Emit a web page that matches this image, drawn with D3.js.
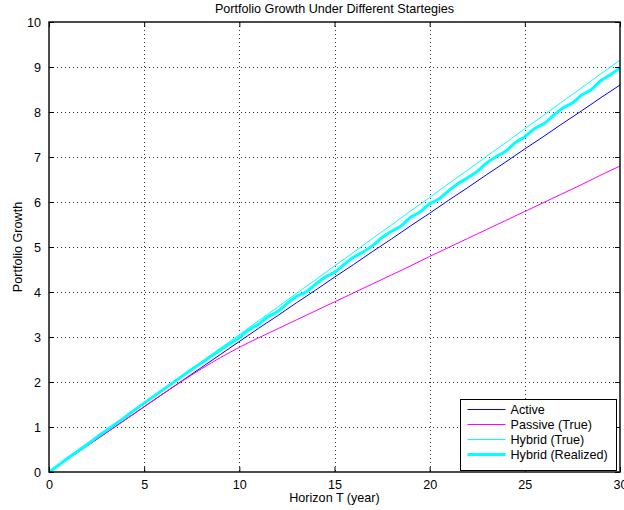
<!DOCTYPE html>
<html>
<head>
<meta charset="utf-8">
<script src="https://cdn.jsdelivr.net/npm/d3@7/dist/d3.min.js"></script>
<style>
  html, body { margin: 0; padding: 0; background: #fff; }
  svg { display: block; font-family: "Liberation Sans", Arial, Helvetica, sans-serif; }
</style>
</head>
<body>
<svg id="chart" width="624" height="510"></svg>
<script>
// Horizons (years) for the smooth strategy curves
const years = [0,1,2,3,4,5,6,7,8,9,10,11,12,13,14,15,16,17,18,19,20,21,22,23,24,25,26,27,28,29,30];
const activeGrowth = [0,0.29,0.58,0.87,1.16,1.45,1.74,2.03,2.32,2.61,2.90,3.19,3.47,3.76,4.04,4.33,4.61,4.90,5.18,5.47,5.75,6.04,6.32,6.61,6.89,7.18,7.46,7.75,8.03,8.32,8.60];
const passiveGrowth = [0,0.29,0.58,0.87,1.16,1.45,1.74,2.02,2.29,2.54,2.77,2.98,3.18,3.38,3.58,3.78,3.98,4.18,4.38,4.58,4.79,4.99,5.19,5.39,5.59,5.79,5.99,6.19,6.39,6.60,6.80];
const hybridTrue = [0,0.31,0.61,0.92,1.22,1.53,1.83,2.14,2.44,2.75,3.05,3.36,3.66,3.97,4.27,4.58,4.88,5.19,5.49,5.80,6.10,6.41,6.71,7.02,7.32,7.63,7.93,8.24,8.54,8.85,9.15];

// Realized hybrid path, sampled every half year
const halfYears = [0,0.5,1,1.5,2,2.5,3,3.5,4,4.5,5,5.5,6,6.5,7,7.5,8,8.5,9,9.5,10,10.5,11,11.5,12,12.5,13,13.5,14,14.5,15,15.5,16,16.5,17,17.5,18,18.5,19,19.5,20,20.5,21,21.5,22,22.5,23,23.5,24,24.5,25,25.5,26,26.5,27,27.5,28,28.5,29,29.5,30];
const hybridRealized = [0,0.15,0.31,0.46,0.61,0.77,0.92,1.07,1.22,1.38,1.53,1.68,1.83,1.98,2.13,2.28,2.42,2.57,2.71,2.85,2.99,3.16,3.28,3.45,3.56,3.74,3.90,4.00,4.17,4.33,4.44,4.61,4.77,4.89,5.03,5.21,5.35,5.47,5.66,5.78,5.96,6.07,6.25,6.41,6.54,6.68,6.87,7.01,7.13,7.32,7.45,7.63,7.74,7.92,8.09,8.20,8.38,8.50,8.70,8.83,8.98];

const xTicks = [0,5,10,15,20,25,30];
const yTicks = [0,1,2,3,4,5,6,7,8,9,10];

const seriesNames = ["Active", "Passive (True)", "Hybrid (True)", "Hybrid (Realized)"];
const seriesColors = ["#0000ff", "#ff00ff", "#00ffff", "#00ffff"];
const seriesWidths = [1, 1, 1, 3];

const svg = d3.select("#chart");
const plotLeft = 49, plotRight = 620, plotTop = 22, plotBottom = 472;
const fontSize = "12.6px";

const x = d3.scaleLinear().domain([0, 30]).range([plotLeft, plotRight]);
const y = d3.scaleLinear().domain([0, 10]).range([plotBottom, plotTop]);

// dotted grid
const grid = svg.append("g").attr("stroke", "#333").attr("stroke-width", 1).attr("stroke-dasharray", "1,3");
grid.selectAll("line.gx").data(xTicks.slice(1, -1)).join("line")
  .attr("x1", d => Math.round(x(d)) + 0.5).attr("x2", d => Math.round(x(d)) + 0.5)
  .attr("y1", plotTop).attr("y2", plotBottom);
grid.selectAll("line.gy").data(yTicks.slice(1, -1)).join("line")
  .attr("y1", d => Math.round(y(d)) + 0.5).attr("y2", d => Math.round(y(d)) + 0.5)
  .attr("x1", plotLeft).attr("x2", plotRight);

// strategy curves
const line = d3.line().x(d => x(d[0])).y(d => y(d[1]));
const smooth = d3.line().x(d => x(d[0])).y(d => y(d[1])).curve(d3.curveMonotoneX);
const plot = svg.append("g").attr("fill", "none");
plot.append("path").datum(d3.zip(years, activeGrowth)).attr("d", line)
  .attr("stroke", seriesColors[0]).attr("stroke-width", seriesWidths[0]);
plot.append("path").datum(d3.zip(years, passiveGrowth)).attr("d", smooth)
  .attr("stroke", seriesColors[1]).attr("stroke-width", seriesWidths[1]);
plot.append("path").datum(d3.zip(years, hybridTrue)).attr("d", line)
  .attr("stroke", seriesColors[2]).attr("stroke-width", seriesWidths[2]);
plot.append("path").datum(d3.zip(halfYears, hybridRealized)).attr("d", smooth)
  .attr("stroke", seriesColors[3]).attr("stroke-width", seriesWidths[3]).attr("stroke-linejoin", "round");

// axes: ticks point inward on all four sides
const tickLen = 5;
const xb = svg.append("g").attr("transform", `translate(0,${plotBottom})`)
  .call(d3.axisBottom(x).tickValues(xTicks).tickSizeInner(-tickLen).tickSizeOuter(0).tickPadding(8));
const xt = svg.append("g").attr("transform", `translate(0,${plotTop})`)
  .call(d3.axisTop(x).tickValues(xTicks).tickSizeInner(-tickLen).tickSizeOuter(0).tickFormat(""));
const yl = svg.append("g").attr("transform", `translate(${plotLeft},0)`)
  .call(d3.axisLeft(y).tickValues(yTicks).tickSizeInner(-tickLen).tickSizeOuter(0).tickPadding(8));
const yr = svg.append("g").attr("transform", `translate(${plotRight},0)`)
  .call(d3.axisRight(y).tickValues(yTicks).tickSizeInner(-tickLen).tickSizeOuter(0).tickFormat(""));
[xb, xt, yl, yr].forEach(g => {
  g.selectAll(".domain").remove();
  g.selectAll(".tick line").attr("stroke", "#000");
  g.selectAll("text").attr("fill", "#000").style("font-size", fontSize)
    .style("font-family", "'Liberation Sans', Arial, Helvetica, sans-serif");
});
yl.selectAll("text").attr("dy", "0.35em");

// box frame
svg.append("rect").attr("x", plotLeft).attr("y", plotTop)
  .attr("width", plotRight - plotLeft).attr("height", plotBottom - plotTop)
  .attr("fill", "none").attr("stroke", "#000").attr("stroke-width", 1.4);

// titles
svg.append("text").attr("x", (plotLeft + plotRight) / 2).attr("y", 13).attr("text-anchor", "middle")
  .style("font-size", fontSize).text("Portfolio Growth Under Different Startegies");
svg.append("text").attr("x", (plotLeft + plotRight) / 2).attr("y", 502).attr("text-anchor", "middle")
  .style("font-size", fontSize).text("Horizon T (year)");
svg.append("text").attr("transform", `translate(22,${(plotTop + plotBottom) / 2}) rotate(-90)`)
  .attr("text-anchor", "middle").style("font-size", fontSize).text("Portfolio Growth");

// legend
const lg = svg.append("g").attr("transform", "translate(460.5,399.5)");
lg.append("rect").attr("width", 156).attr("height", 71).attr("fill", "#fff").attr("stroke", "#000").attr("stroke-width", 1);
seriesNames.forEach((name, i) => {
  const yy = 10 + i * 15;
  lg.append("line").attr("x1", 7).attr("x2", 45).attr("y1", yy).attr("y2", yy)
    .attr("stroke", seriesColors[i]).attr("stroke-width", seriesWidths[i]);
  lg.append("text").attr("x", 50).attr("y", yy).attr("dy", "0.35em")
    .style("font-size", fontSize).text(name);
});
</script>
</body>
</html>
